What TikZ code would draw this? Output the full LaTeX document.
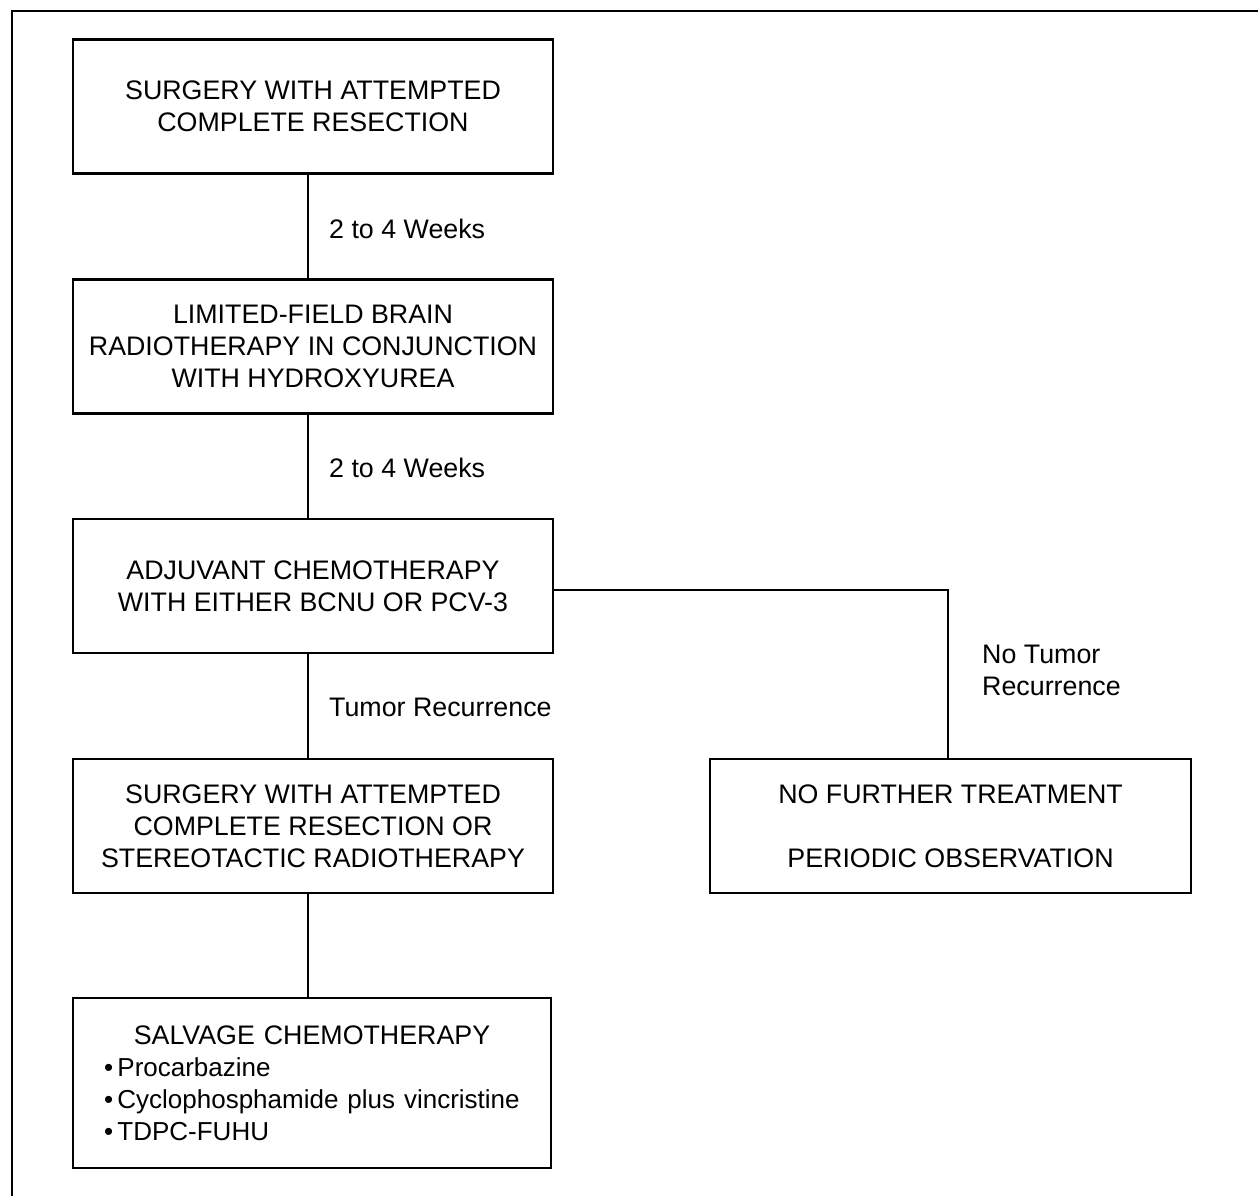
\documentclass[tikz,border=0pt]{standalone}
\usepackage{fontspec}
\setmainfont{Liberation Sans}
\begin{document}
\begin{tikzpicture}[x=1pt,y=-1pt,
  box/.style={draw,line width=2.7pt,minimum width=480pt,minimum height=134pt,inner sep=0pt,align=center,font=\fontsize{26.8}{32}\selectfont},
  lbl/.style={anchor=west,inner sep=0pt,align=left,font=\fontsize{26.8}{32}\selectfont},
  conn/.style={line width=1.7pt}]
\useasboundingbox (0,0) rectangle (1258,1195);
\draw[line width=2.8pt] (12,1200) -- (12,11) -- (1262,11);
\node[box] (b1) at (313,106.5) {SURGERY WITH ATTEMPTED\\COMPLETE RESECTION};
\node[box] (b2) at (313,346.5) {LIMITED-FIELD BRAIN\\RADIOTHERAPY IN CONJUNCTION\\WITH HYDROXYUREA};
\node[box] (b3) at (313,586) {ADJUVANT CHEMOTHERAPY\\WITH EITHER BCNU OR PCV-3};
\node[box] (b4) at (313,826) {SURGERY WITH ATTEMPTED\\COMPLETE RESECTION OR\\STEREOTACTIC RADIOTHERAPY};
\node[box,minimum width=478pt,minimum height=170pt,text width=416pt,align=left] (b5) at (312,1083)
  {\hfuzz=100pt\centering SALVAGE CHEMOTHERAPY\par\raggedright\fontsize{26}{32}\selectfont \mbox{•\,Procarbazine}\\\mbox{•\,Cyclophosphamide plus vincristine}\\\mbox{•\,TDPC-FUHU}\par};
\node[box,minimum width=481pt] (b6) at (950.5,826) {NO FURTHER TREATMENT\\[32pt]PERIODIC OBSERVATION};
\coordinate (c) at (308,0);
\coordinate (r) at (948,0);
\coordinate (h) at (0,590);
\draw[conn] (b1.south -| c) -- (b2.north -| c);
\draw[conn] (b2.south -| c) -- (b3.north -| c);
\draw[conn] (b3.south -| c) -- (b4.north -| c);
\draw[conn] (b4.south -| c) -- (b5.north -| c);
\draw[conn] (b3.east |- h) -- (r |- h) -- (b6.north -| r);
\node[lbl] (l1) at (329,229) {2 to 4 Weeks};
\node[lbl] (l2) at (329,468) {2 to 4 Weeks};
\node[lbl] (l3) at (329,707) {Tumor Recurrence};
\node[lbl] (l4) at (982,670) {No Tumor\\Recurrence};
\end{tikzpicture}
\end{document}
